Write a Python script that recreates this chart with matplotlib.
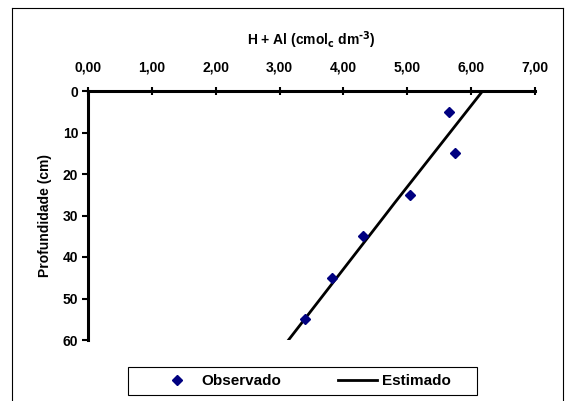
import matplotlib
matplotlib.use("Agg")
import matplotlib.pyplot as plt
from matplotlib.lines import Line2D
from matplotlib.patches import Rectangle

plt.rcParams['font.family'] = ['Liberation Sans', 'DejaVu Sans']
plt.rcParams['font.weight'] = 'bold'

# observed points
obs_hal = [5.65, 5.74, 5.05, 4.31, 3.82, 3.40]
obs_depth = [5, 15, 25, 35, 45, 55]

# estimated curve
est_hal = [6.18, 4.80, 4.65, 3.14]
est_depth = [0, 27, 30, 60]

xticks = [0, 1, 2, 3, 4, 5, 6, 7]
yticks = [0, 10, 20, 30, 40, 50, 60]

W, H = 565, 401
fig = plt.figure(figsize=(W / 100, H / 100), dpi=100)
ax = fig.add_axes([88 / W, 1 - 340 / H, (535 - 88) / W, (340 - 91) / H])

ax.plot(est_hal, est_depth, color='black', lw=2, label='Estimado', zorder=2)
ax.plot(obs_hal, obs_depth, linestyle='none', marker='D', color='#000080',
        markersize=5.5, label='Observado', zorder=3)

ax.set_xlim(0, 7)
ax.set_ylim(60, 0)
ax.xaxis.tick_top()
ax.xaxis.set_label_position('top')
ax.set_xticks(xticks)
ax.set_xticklabels([f"{v:.2f}".replace('.', ',') for v in xticks])
ax.set_yticks(yticks)
ax.tick_params(axis='x', direction='inout', length=6, width=1.5, labelsize=10, pad=9)
ax.tick_params(axis='y', direction='out', length=4, width=1.5, labelsize=10, pad=3)
for sp in ['right', 'bottom']:
    ax.spines[sp].set_visible(False)
for sp in ['top', 'left']:
    ax.spines[sp].set_linewidth(2.2)

ax.set_xlabel(r'H + Al (cmol$_\mathbf{c}$ dm$^{\mathbf{‐3}}$)', fontsize=10, fontweight='bold', labelpad=11)
ax.set_ylabel('Profundidade (cm)', fontsize=10, fontweight='bold', labelpad=8)

# legend box
fig.add_artist(Rectangle((128 / W, 1 - 395 / H), (477 - 128) / W, 28 / H,
                         transform=fig.transFigure, facecolor='white',
                         edgecolor='black', lw=0.8))
handles, labels = ax.get_legend_handles_labels()
leg = fig.legend(handles[::-1], labels[::-1], ncol=2, loc='center',
                 bbox_to_anchor=(304 / W, 1 - 381 / H), frameon=False,
                 handlelength=2.6, handletextpad=0.3, columnspacing=3.7,
                 prop={'weight': 'bold', 'size': 11})

# outer chart frame
for xs, ys in [([12, 12], [8, H + 5]), ([12, 563], [8, 8]), ([563, 563], [8, H + 5])]:
    fig.add_artist(Line2D([x / W for x in xs], [1 - y / H for y in ys],
                          color='black', lw=0.8, transform=fig.transFigure))

fig.savefig('out.png', dpi=100)
